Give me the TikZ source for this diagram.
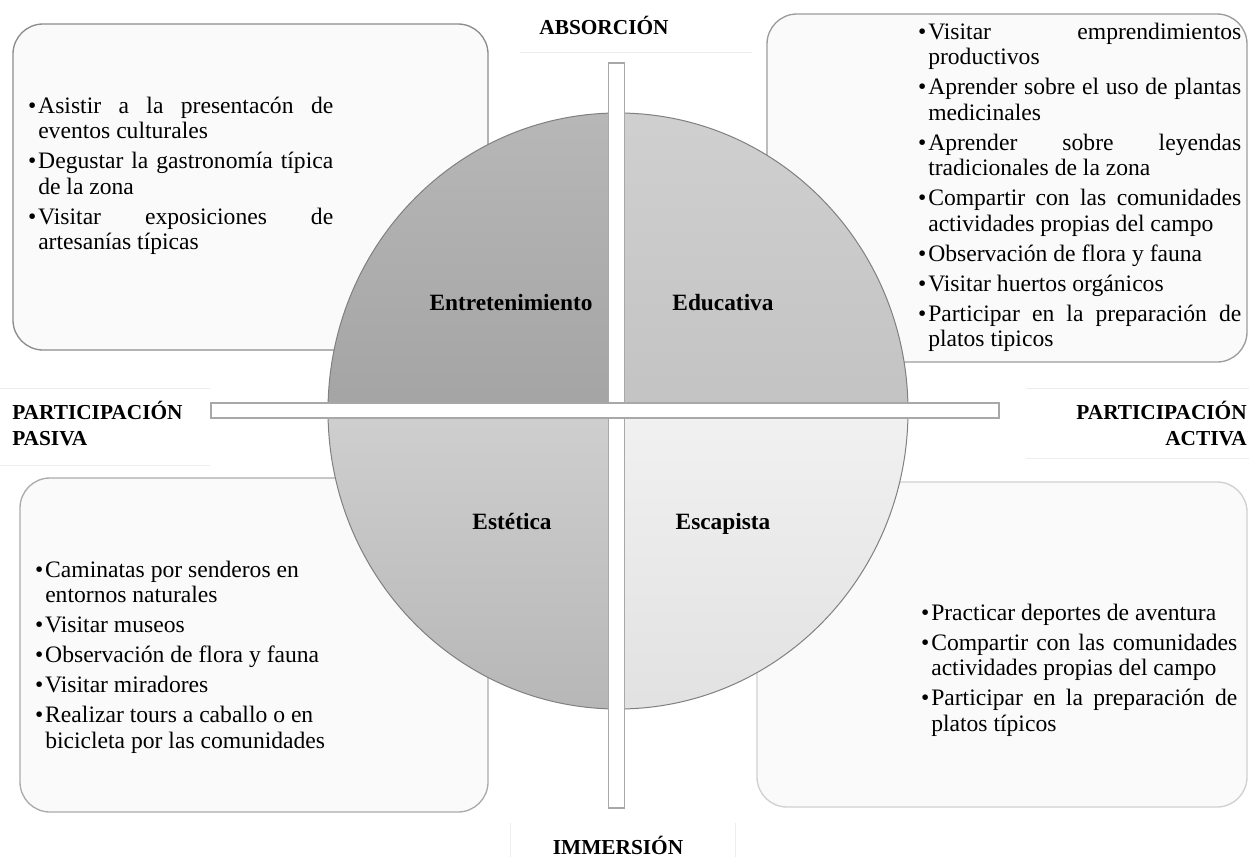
\documentclass[tikz,border=0pt]{standalone}
\usepackage{fontspec}
\setmainfont{Liberation Serif}
\definecolor{qtlt}{HTML}{B8B8B8}
\definecolor{qtlb}{HTML}{A4A4A4}
\definecolor{qtrt}{HTML}{D0D0D0}
\definecolor{qtrb}{HTML}{C3C3C3}
\definecolor{qblt}{HTML}{CFCFCF}
\definecolor{qblb}{HTML}{B6B6B6}
\definecolor{qbrt}{HTML}{F1F1F1}
\definecolor{qbrb}{HTML}{E1E1E1}
\definecolor{circline}{HTML}{808080}
\definecolor{barline}{HTML}{A8A8A8}
\definecolor{boxfill}{HTML}{FAFAFA}
\definecolor{tlline}{HTML}{8C8C8C}
\definecolor{trline}{HTML}{9C9C9C}
\definecolor{blline}{HTML}{ABABAB}
\definecolor{brline}{HTML}{D0D0D0}
\tikzset{
  boxframe/.style={rounded corners=22.5pt, fill=boxfill, line width=1pt},
  bodytext/.style={inner sep=0pt, anchor=base west, font=\fontsize{17.7}{19.125}\selectfont},
  quadlabel/.style={inner sep=0pt, anchor=base, font=\fontsize{17.5}{20}\selectfont\bfseries},
  axislabel/.style={inner sep=0pt, font=\fontsize{16}{19.5}\selectfont\bfseries},
  barshape/.style={fill=white, draw=barline, line width=0.8pt},
  faintline/.style={draw=black!7, line width=0.75pt},
  outline/.style={draw=circline, line width=0.75pt}
}
\newcommand\bul{\leavevmode\llap{\textbullet\kern1.5pt}}
\newcommand\jl[1]{\makebox[\linewidth][s]{#1}}
\begin{document}
\begin{tikzpicture}[x=0.75pt,y=-0.75pt]
\fill[white] (0,0) rectangle (1249,857);
\useasboundingbox (0,0) rectangle (1249,857);
% faint label frames
\draw[faintline] (520,52) -- (752,52);
\draw[faintline] (0,388) -- (210,388);
\draw[faintline] (0,465) -- (210,465);
\draw[faintline] (1026,388) -- (1249,388);
\draw[faintline] (1026,458) -- (1249,458);
\draw[faintline] (510,857) -- (510,823);
\draw[faintline] (735,857) -- (735,823);
% boxes
\draw[boxframe, draw=tlline] (13,24) rectangle (488,350);
\draw[boxframe, draw=trline] (767,14) rectangle (1247,362);
\draw[boxframe, draw=blline] (20,478) rectangle (488,812);
\draw[boxframe, draw=brline] (757,482) rectangle (1247,807);
% box texts
\node[bodytext] (tltext) at (38,113) {\parbox[t]{221.25pt}{%
\bul\jl{Asistir a la presentacón de}\\
eventos culturales\\[3.375pt]
\bul\jl{Degustar la gastronomía típica}\\
de la zona\\[3.375pt]
\bul\jl{Visitar exposiciones de}\\
artesanías típicas}};
\node[bodytext] (trtext) at (928,39) {\parbox[t]{234.75pt}{%
\bul\jl{Visitar emprendimientos}\\
productivos\\[3.375pt]
\bul\jl{Aprender sobre el uso de plantas}\\
medicinales\\[3.375pt]
\bul\jl{Aprender sobre leyendas}\\
tradicionales de la zona\\[3.375pt]
\bul\jl{Compartir con las comunidades}\\
actividades propias del campo\\[3.375pt]
\bul Observación de flora y fauna\\[3.375pt]
\bul Visitar huertos orgánicos\\[3.375pt]
\bul\jl{Participar en la preparación de}\\
platos tipicos}};
\node[bodytext] (bltext) at (45,577) {\parbox[t]{330pt}{%
\bul Caminatas por senderos en\\
entornos naturales\\[3.375pt]
\bul Visitar museos\\[3.375pt]
\bul Observación de flora y fauna\\[3.375pt]
\bul Visitar miradores\\[3.375pt]
\bul Realizar tours a caballo o en\\
bicicleta por las comunidades}};
\node[bodytext] (brtext) at (931,620) {\parbox[t]{229.5pt}{%
\bul Practicar deportes de aventura\\[3.375pt]
\bul\jl{Compartir con las comunidades}\\
actividades propias del campo\\[3.375pt]
\bul\jl{Participar en la preparación de}\\
platos típicos}};
% circle quadrants
\begin{scope}
\clip (618,411) ellipse [x radius=290, y radius=298];
\shade[top color=qtlt, bottom color=qtlb] (320,100) rectangle (616.5,410.5);
\shade[top color=qtrt, bottom color=qtrb] (616.5,100) rectangle (915,410.5);
\shade[top color=qblt, bottom color=qblb] (320,410.5) rectangle (616.5,720);
\shade[top color=qbrt, bottom color=qbrb] (616.5,410.5) rectangle (915,720);
\end{scope}
\draw[outline] (618,411) ellipse [x radius=290, y radius=298];
% axes bars
\draw[barshape] (608.5,63) rectangle (624.5,808);
\draw[barshape] (211,403) rectangle (999,418);
% quadrant labels
\node[quadlabel] (ent) at (511,310) {Entretenimiento};
\node[quadlabel] (edu) at (723,310) {Educativa};
\node[quadlabel] (est) at (512,529) {Estética};
\node[quadlabel] (esc) at (723,529) {Escapista};
% axis labels
\node[axislabel, anchor=base] (abs) at (604,34) {ABSORCIÓN};
\node[axislabel, anchor=base west] (pas1) at (12,419) {PARTICIPACIÓN};
\node[axislabel, anchor=base west] (pas2) at (12,445) {PASIVA};
\node[axislabel, anchor=base east] (act1) at (1247,419) {PARTICIPACIÓN};
\node[axislabel, anchor=base east] (act2) at (1247,445) {ACTIVA};
\node[axislabel, anchor=base] (imm) at (618,854) {IMMERSIÓN};
\end{tikzpicture}
\end{document}
